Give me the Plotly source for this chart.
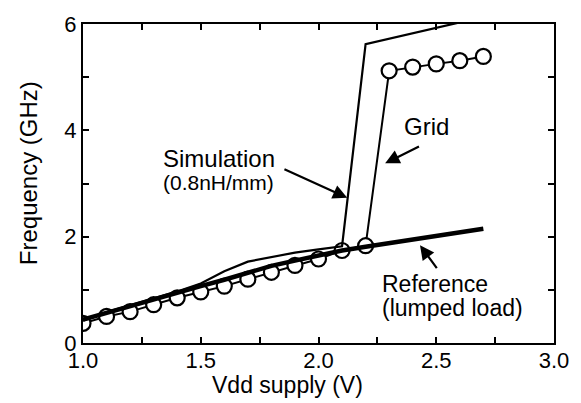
import plotly.graph_objects as go

# Data
grid_v = [1.0, 1.1, 1.2, 1.3, 1.4, 1.5, 1.6, 1.7, 1.8, 1.9, 2.0, 2.1, 2.2, 2.3, 2.4, 2.5, 2.6, 2.7]
grid_f = [0.37, 0.50, 0.59, 0.72, 0.85, 0.96, 1.07, 1.20, 1.33, 1.46, 1.58, 1.74, 1.83, 5.12, 5.19, 5.25, 5.31, 5.39]

sim_v = [1.0, 1.1, 1.2, 1.3, 1.4, 1.5, 1.6, 1.7, 1.8, 1.9, 2.0, 2.1, 2.2, 2.6]
sim_f = [0.42, 0.58, 0.71, 0.84, 0.97, 1.12, 1.35, 1.53, 1.62, 1.70, 1.76, 1.82, 5.62, 6.03]

ref_v = [1.0, 1.1, 1.2, 1.3, 1.4, 1.5, 1.6, 1.7, 1.8, 1.9, 2.0, 2.1, 2.2, 2.3, 2.4, 2.5, 2.6, 2.7]
ref_f = [0.44, 0.57, 0.70, 0.83, 0.95, 1.07, 1.19, 1.32, 1.45, 1.55, 1.65, 1.74, 1.81, 1.88, 1.95, 2.01, 2.08, 2.15]

x_tickvals = [1.0, 1.25, 1.5, 1.75, 2.0, 2.25, 2.5, 2.75, 3.0]
x_ticktext = ["1.0", "", "1.5", "", "2.0", "", "2.5", "", "3.0"]
y_tickvals = [0, 1, 2, 3, 4, 5, 6]
y_ticktext = ["0", "", "2", "", "4", "", "6"]

x_title = "Vdd supply (V)"
y_title = "Frequency (GHz)"

FONT = "Liberation Sans, Arial, sans-serif"

fig = go.Figure()
fig.add_trace(go.Scatter(
    x=grid_v, y=grid_f, mode="lines+markers",
    line=dict(color="black", width=2),
    marker=dict(symbol="circle", size=15, color="white", line=dict(color="black", width=2.2)),
    showlegend=False))
fig.add_trace(go.Scatter(
    x=sim_v, y=sim_f, mode="lines",
    line=dict(color="black", width=2.2),
    showlegend=False))
fig.add_trace(go.Scatter(
    x=ref_v, y=ref_f, mode="lines",
    line=dict(color="black", width=4.5),
    showlegend=False))

def txt(x, y, s, size, xanchor="left"):
    fig.add_annotation(x=x, y=y, xref="x", yref="y", text=s, showarrow=False,
                       xanchor=xanchor, yanchor="middle",
                       font=dict(family=FONT, size=size, color="black"))

def arrow(x0, y0, x1, y1):
    fig.add_annotation(x=x1, y=y1, ax=x0, ay=y0, xref="x", yref="y",
                       axref="x", ayref="y", text="", showarrow=True,
                       arrowhead=2, arrowsize=1.3, arrowwidth=2.2, arrowcolor="black",
                       standoff=0, startstandoff=0)

txt(1.33, 3.47, "Simulation", 24)
txt(1.33, 3.01, "(0.8nH/mm)", 21)
txt(2.458, 4.07, "Grid", 24, xanchor="center")
txt(2.262, 1.11, "Reference", 23)
txt(2.262, 0.66, "(lumped load)", 23)

arrow(1.849, 3.28, 2.122, 2.73)
arrow(2.433, 3.71, 2.283, 3.38)
arrow(2.507, 1.38, 2.431, 1.84)

# Axis titles (placed as in the reference, slightly off-centre)
fig.add_annotation(x=0.435, y=-0.132, xref="paper", yref="paper", text=x_title,
                   showarrow=False, xanchor="center", yanchor="middle",
                   font=dict(family=FONT, size=23, color="black"))
fig.add_annotation(x=-0.117, y=0.532, xref="paper", yref="paper", text=y_title,
                   showarrow=False, xanchor="center", yanchor="middle", textangle=-90,
                   font=dict(family=FONT, size=24, color="black"))

axis_common = dict(
    showgrid=False, zeroline=False, showline=True, linecolor="black", linewidth=2,
    mirror="ticks", ticks="inside", ticklen=6, tickwidth=1.5, tickcolor="black",
    tickfont=dict(family=FONT, size=22, color="black"),
)

fig.update_xaxes(range=[1.0, 3.0], tickmode="array", tickvals=x_tickvals, ticktext=x_ticktext,
                 ticklabelstandoff=-3, **axis_common)
fig.update_yaxes(range=[0, 6], tickmode="array", tickvals=y_tickvals, ticktext=y_ticktext,
                 **axis_common)

fig.update_layout(
    width=581, height=403,
    margin=dict(l=83, r=22, t=17, b=60),
    plot_bgcolor="white", paper_bgcolor="white",
    font=dict(family=FONT, color="black"),
)

fig.write_html("out.html")
